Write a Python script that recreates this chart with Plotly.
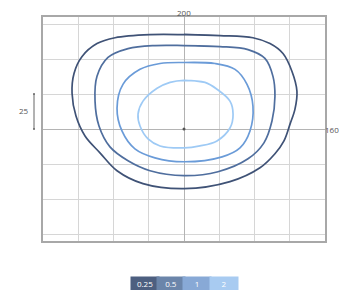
import plotly.graph_objects as go

# Isolux contour levels (lux) and their outlines, in metres relative to the luminaire
levels = ["0.25", "0.5", "1", "2"]
line_colors = ["#3f5276", "#4f6e9e", "#6a9bd8", "#9ecaf5"]
legend_colors = ["#4d5f80", "#6b85aa", "#88a9d6", "#a8cbf1"]

c025_x = [0, 25.5, 48.9, 61.0, 70.2, 76.6, 80.1, 78.7, 75.2, 70.9, 64.5, 53.9, 32.6, 0, -29.1, -47.5, -59.6, -70.2, -76.6, -79.4, -78.0, -72.3, -61.7, -48.9, -24.1]
c025_y = [67.4, 66.7, 65.2, 61.0, 53.9, 41.1, 27.0, 14.2, 3.5, -8.5, -17.7, -27.7, -37.6, -42.6, -39.0, -29.8, -17.0, -5.0, 9.2, 25.5, 39.7, 51.8, 61.0, 65.2, 67.4]

c05_x = [0, 25.5, 45.4, 57.4, 63.1, 64.5, 62.4, 56.7, 45.4, 24.1, 0, -24.1, -39.7, -52.5, -60.3, -63.1, -61.7, -53.9, -39.7, -20.6]
c05_y = [59.6, 58.9, 56.7, 50.4, 37.6, 23.4, 5.7, -9.9, -21.3, -30.5, -33.3, -29.8, -22.7, -12.8, 2.1, 19.9, 37.6, 51.1, 57.4, 59.6]

c1_x = [0, 22.0, 36.2, 44.7, 48.9, 46.8, 39.7, 27.0, 0, -20.6, -34.8, -44.0, -47.5, -43.3, -31.2, -17.0]
c1_y = [47.5, 46.8, 42.6, 31.9, 16.3, -1.4, -13.5, -19.9, -23.4, -20.6, -14.2, -1.4, 14.9, 31.9, 42.6, 46.8]

c2_x = [0, 14.9, 23.4, 32.6, 34.8, 32.6, 23.4, 11.3, 0, -17.0, -25.5, -31.2, -32.6, -29.1, -19.1, -9.9]
c2_y = [34.8, 33.3, 28.4, 19.9, 10.6, 0.7, -8.5, -12.1, -13.5, -12.1, -7.1, 2.1, 10.6, 19.9, 29.1, 33.3]

contours = [(c025_x, c025_y), (c05_x, c05_y), (c1_x, c1_y), (c2_x, c2_y)]

x_range = [-100, 100]
y_range = [-80, 80]
grid_step = 25
top_label = "200"
right_label = "160"
scale_label = "25"

fig = go.Figure()
for (xs, ys), col, name in zip(contours, line_colors, levels):
    fig.add_trace(go.Scatter(
        x=xs + xs[:2], y=ys + ys[:2], mode="lines", name=name,
        line=dict(color=col, width=1.7, shape="spline", smoothing=1.0),
        hoverinfo="skip", showlegend=False))

# luminaire position
fig.add_trace(go.Scatter(x=[0], y=[0], mode="markers",
                         marker=dict(color="#555", size=3), showlegend=False, hoverinfo="skip"))

ax_common = dict(showticklabels=False, ticks="", showgrid=True, gridcolor="#d6d6d6",
                 gridwidth=1, zeroline=True, zerolinecolor="#b4b4b4", zerolinewidth=1,
                 showline=True, linecolor="#a8a8a8", linewidth=1.5, mirror=True, fixedrange=True)
fig.update_xaxes(range=x_range, dtick=grid_step, tick0=0, **ax_common)
fig.update_yaxes(range=y_range, dtick=grid_step, tick0=0, **ax_common)

OFF = 8  # page body margin
W, H = 339, 282
ml, mt = 43 - OFF, 15 - OFF
pw, ph = 282, 226
mr = W - ml - pw
mb = H - mt - ph

def px2paperx(px):
    return (px - OFF - ml) / pw

def py2papery(py):
    return (mt + ph - (py - OFF)) / ph

annotations = [
    dict(text=top_label, x=0, xref="x", y=py2papery(10.5), yref="paper",
         showarrow=False, font=dict(size=8, color="#555"), xanchor="center", yanchor="middle",
         borderpad=0),
    dict(text=right_label, x=px2paperx(340), xref="paper", y=0, yref="y",
         showarrow=False, font=dict(size=8, color="#555"), xanchor="right", yanchor="middle",
         borderpad=0),
    dict(text=scale_label, x=px2paperx(31), xref="paper", y=grid_step / 2 + 1, yref="y",
         showarrow=False, font=dict(size=8, color="#555"), xanchor="right", yanchor="middle"),
]
box_w = 26
centers = [145, 171, 197, 223.5]
for lab, col, cx in zip(levels, legend_colors, centers):
    annotations.append(dict(text=lab, x=px2paperx(cx), xref="paper", y=py2papery(284), yref="paper",
                            showarrow=False, font=dict(size=8, color="white"),
                            bgcolor=col, width=box_w, height=11, borderpad=1,
                            xanchor="center", yanchor="middle"))

shapes = [
    dict(type="line", xref="paper", yref="y", x0=px2paperx(34), x1=px2paperx(34),
         y0=0, y1=grid_step, line=dict(color="#666", width=1)),
    dict(type="line", xref="paper", yref="y", x0=px2paperx(33), x1=px2paperx(35),
         y0=0, y1=0, line=dict(color="#666", width=1.5)),
    dict(type="line", xref="paper", yref="y", x0=px2paperx(33), x1=px2paperx(35),
         y0=grid_step, y1=grid_step, line=dict(color="#666", width=1.5)),
]

fig.update_layout(width=W, height=H, margin=dict(l=ml, r=mr, t=mt, b=mb),
                  paper_bgcolor="white", plot_bgcolor="white",
                  font=dict(family="Open Sans, Arial, sans-serif"),
                  annotations=annotations, shapes=shapes)

fig.write_html("out.html", config={"displayModeBar": False})
